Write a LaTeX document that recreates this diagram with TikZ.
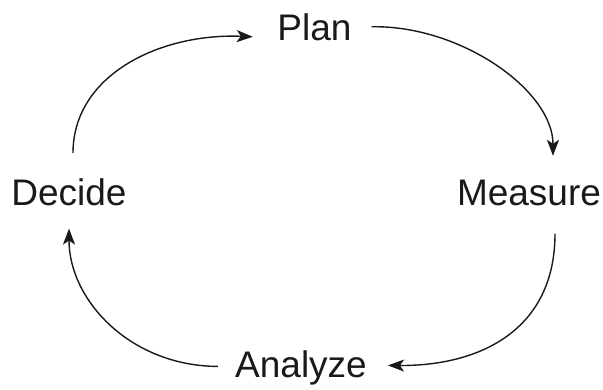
\documentclass[tikz,border=0pt]{standalone}
\usepackage{fontspec}
\setmainfont{Liberation Sans}
\usetikzlibrary{arrows.meta}
\begin{document}
\begin{tikzpicture}[x=1pt,y=-1pt,
  lbl/.style={font=\fontsize{37}{40}\selectfont, inner sep=0pt, anchor=base, text=black!90},
  conn/.style={line width=1.4pt, draw=black!90, -{Stealth[length=16pt,width=12pt,inset=4pt]}}]
\useasboundingbox (0,0) rectangle (603,389);
\node[lbl] (plan) at (314.5,40) {Plan};
\node[lbl] (measure) at (529,205) {Measure};
\node[lbl] (analyze) at (301,377) {Analyze};
\node[lbl] (decide) at (69,205) {Decide};
\draw[conn] ([xshift=20pt,yshift=0pt]plan.east) .. controls (460,25) and (553,90) .. ([xshift=24pt,yshift=23.5pt]measure.north);
\draw[conn] ([xshift=26pt,yshift=-28pt]measure.south) .. controls (555,330) and (480,366) .. ([xshift=21pt,yshift=2pt]analyze.east);
\draw[conn] ([xshift=-17pt,yshift=1pt]analyze.west) .. controls (130,366) and (69,300) .. ([xshift=0pt,yshift=-23pt]decide.south);
\draw[conn] ([xshift=4pt,yshift=25pt]decide.north) .. controls (73,75) and (160,33) .. ([xshift=-24.5pt,yshift=-10pt]plan.west);
\end{tikzpicture}
\end{document}
